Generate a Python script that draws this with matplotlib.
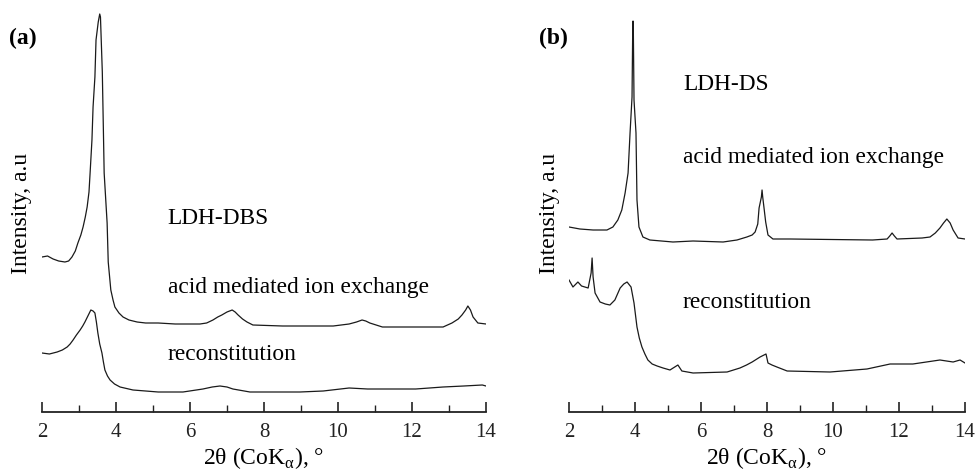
import matplotlib
matplotlib.use('Agg')
import matplotlib.pyplot as plt
from matplotlib.ticker import MultipleLocator

plt.rcParams['font.family'] = ['Liberation Serif', 'DejaVu Serif']
plt.rcParams['mathtext.fontset'] = 'custom'
plt.rcParams['mathtext.rm'] = 'Liberation Serif'

# (a) LDH-DBS, acid mediated ion exchange
a_top_x = [2.0, 2.15, 2.3, 2.45, 2.62, 2.72, 2.81, 2.9, 2.97, 3.05, 3.11, 3.17, 3.22, 3.27, 3.30,
           3.35, 3.38, 3.43, 3.46, 3.52, 3.56, 3.58, 3.63, 3.66, 3.68, 3.72, 3.76, 3.79, 3.86,
           3.92, 3.97, 4.08, 4.19, 4.35, 4.57, 4.8, 5.14, 5.6, 6.27, 6.45, 6.62, 6.75, 6.86,
           7.0, 7.14, 7.22, 7.3, 7.42, 7.54, 7.7, 8.5, 9.2, 9.87, 10.3, 10.5, 10.65, 10.75,
           10.86, 11.2, 12.0, 12.84, 13.08, 13.25, 13.35, 13.45, 13.51, 13.58, 13.65, 13.78, 14.0]
a_top_y = [155, 156, 153, 151, 150, 151, 155, 161, 169, 177, 185, 195, 205, 220, 239,
           272, 305, 335, 372, 390, 398, 395, 340, 280, 239, 214, 189, 150, 122,
           112, 105, 99, 95, 92, 90, 89, 89, 88, 88, 89, 92, 95, 97,
           100, 102, 100, 97, 93, 90, 87, 86, 86, 86, 88, 90, 92, 91,
           89, 85, 85, 85, 89, 93, 97, 102, 106, 102, 95, 89, 88]

# (a) reconstitution
a_bot_x = [2.0, 2.2, 2.41, 2.55, 2.68, 2.76, 2.84, 2.93, 3.03, 3.1, 3.16, 3.24, 3.32, 3.38,
           3.43, 3.47, 3.51, 3.56, 3.62, 3.66, 3.70, 3.77, 3.84, 3.96, 4.11, 4.46, 4.8,
           5.14, 5.81, 6.35, 6.6, 6.81, 7.0, 7.16, 7.62, 8.3, 8.97, 9.6, 10.3, 10.8, 11.2,
           12.1, 12.84, 13.4, 13.9, 14.0]
a_bot_y = [59, 58, 60, 62, 65, 68, 72, 77, 82, 86, 90, 96, 102, 101,
           99, 90, 79, 68, 59, 50, 42, 36, 32, 28, 25, 22, 21,
           20, 20, 23, 25, 26, 25, 23, 20, 20, 20, 21, 24, 23, 23,
           23, 25, 26, 27, 26]

# (b) LDH-DS, acid mediated ion exchange
b_top_x = [2.0, 2.33, 2.73, 3.15, 3.33, 3.48, 3.6, 3.70, 3.79, 3.85, 3.91, 3.93, 3.94, 3.95,
           3.97, 4.03, 4.06, 4.12, 4.24, 4.45, 5.15, 5.76, 6.67, 7.09, 7.39, 7.55, 7.64,
           7.72, 7.76, 7.83, 7.85, 7.87, 7.91, 7.96, 8.03, 8.18, 8.7, 11.2, 11.64, 11.72,
           11.79, 11.86, 11.94, 12.7, 12.94, 13.1, 13.24, 13.35, 13.45, 13.55, 13.64, 13.79, 14.0]
b_top_y = [185, 183, 182, 182, 185, 192, 202, 219, 239, 279, 315, 380, 391, 380,
           312, 279, 212, 185, 175, 172, 170, 171, 170, 172, 175, 177, 180,
           188, 204, 215, 222, 215, 204, 190, 177, 173, 173, 172, 173, 176,
           179, 176, 173, 174, 175, 179, 184, 189, 193, 189, 182, 174, 173]

# (b) reconstitution
b_bot_x = [2.0, 2.12, 2.27, 2.38, 2.48, 2.58, 2.67, 2.70, 2.73, 2.79, 2.94, 3.1, 3.24, 3.39,
           3.55, 3.66, 3.76, 3.88, 3.97, 4.06, 4.13, 4.21, 4.3, 4.39, 4.52, 4.67, 4.85,
           5.06, 5.30, 5.42, 5.76, 6.79, 7.18, 7.38, 7.55, 7.79, 7.97, 8.03, 8.15, 8.30,
           8.61, 9.91, 11.03, 11.73, 12.42, 13.24, 13.64, 13.85, 14.0]
b_bot_y = [132, 125, 130, 126, 125, 124, 139, 154, 135, 119, 110, 108, 107, 112,
           124, 128, 130, 125, 109, 85, 74, 65, 58, 52, 48, 46, 44,
           42, 47, 41, 39, 40, 44, 47, 50, 55, 58, 49, 47, 45,
           41, 40, 43, 48, 48, 52, 50, 52, 49]

W, H = 976, 472
fig = plt.figure(figsize=(W / 100, H / 100), dpi=100)

def make_axes(left_px, right_px):
    ax = fig.add_axes([left_px / W, (H - 412) / H, (right_px - left_px) / W, 402 / H])
    ax.set_xlim(2, 14)
    ax.set_ylim(0, 402)
    for s in ['top', 'right', 'left']:
        ax.spines[s].set_visible(False)
    ax.spines['bottom'].set_linewidth(1.3)
    ax.spines['bottom'].set_color('#222222')
    ax.set_yticks([])
    ax.xaxis.set_major_locator(MultipleLocator(2))
    ax.xaxis.set_minor_locator(MultipleLocator(1))
    ax.tick_params(axis='x', which='major', direction='in', length=7, width=1.2,
                   labelsize=15, pad=8, colors='#222222')
    ax.tick_params(axis='x', which='minor', direction='in', length=5, width=1.0,
                   colors='#222222')
    ax.set_xlabel(r'2θ (CoK$_{\mathrm{α}}$), °', fontsize=17, labelpad=2)
    return ax

ax_a = make_axes(42, 486)
ax_a.plot(a_top_x, a_top_y, color='#1a1a1a', lw=0.9)
ax_a.plot(a_bot_x, a_bot_y, color='#1a1a1a', lw=0.9)
ax_a.text(5.4, 194, 'LDH-DBS', fontsize=16.8, va='center')
ax_a.text(5.4, 125, 'acid mediated ion exchange', fontsize=16.8, va='center')
ax_a.text(5.4, 58, 'reconstitution', fontsize=16.8, va='center')

ax_b = make_axes(569, 965)
ax_b.plot(b_top_x, b_top_y, color='#1a1a1a', lw=0.9)
ax_b.plot(b_bot_x, b_bot_y, color='#1a1a1a', lw=0.9)
ax_b.text(5.45, 327, 'LDH-DS', fontsize=16.8, va='center')
ax_b.text(5.45, 255, 'acid mediated ion exchange', fontsize=16.8, va='center')
ax_b.text(5.45, 109, 'reconstitution', fontsize=16.8, va='center')

fig.text(22 / W, 1 - 213 / H, 'Intensity, a.u', rotation=90, fontsize=17,
         ha='center', va='center')
fig.text(550 / W, 1 - 213 / H, 'Intensity, a.u', rotation=90, fontsize=17,
         ha='center', va='center')
fig.text(23 / W, 1 - 38 / H, '(a)', fontsize=17, fontweight='bold',
         ha='center', va='center')
fig.text(553 / W, 1 - 38 / H, '(b)', fontsize=17, fontweight='bold',
         ha='center', va='center')

fig.savefig('out.png', dpi=100)
